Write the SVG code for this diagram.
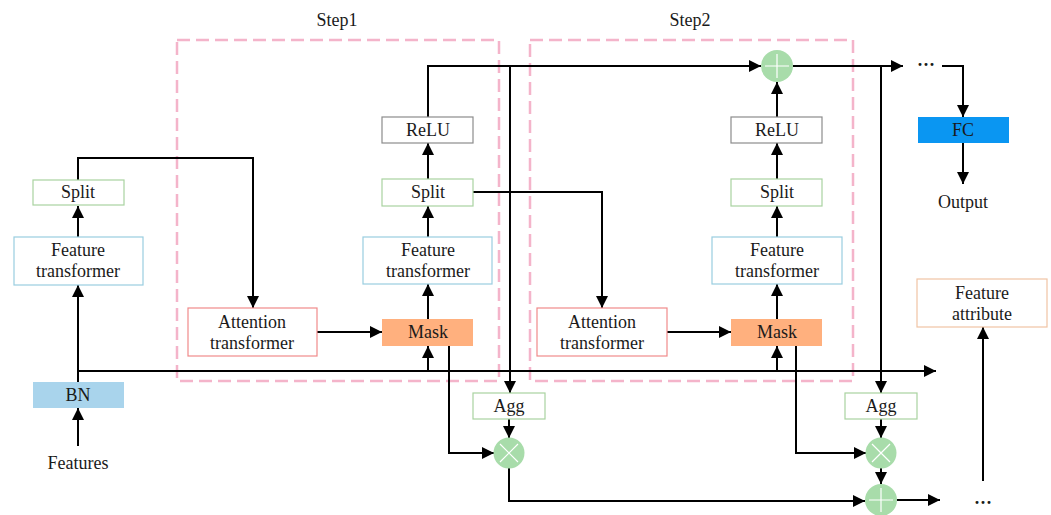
<svg xmlns="http://www.w3.org/2000/svg" width="1051" height="515" viewBox="0 0 1051 515">
  <style>
    text { font-family: "Liberation Serif", "DejaVu Serif", serif; font-size: 18px; fill: #1a1a1a; text-anchor: middle; dominant-baseline: central; }
    .dots { font-weight: bold; }
    .step { fill: none; stroke: #f4b4ca; stroke-width: 2.5; stroke-dasharray: 13 6; }
    .box { fill: #ffffff; stroke-width: 1.2; }
    .split { stroke: #a9d3a0; }
    .ft { stroke: #99cde0; }
    .attn { stroke: #f08a8a; }
    .relu { stroke: #8c8c8c; }
    .agg { stroke: #a9d3a0; }
    .attr { stroke: #f0c4a4; }
    .mask { fill: #ffb07e; stroke: none; }
    .bn { fill: #a9d4ec; stroke: none; }
    .fc { fill: #0a96f2; stroke: none; }
    .op { fill: #a8dcaa; }
    .opmark { stroke: #ffffff; stroke-width: 1.2; }
    .wire { fill: none; stroke: #000000; stroke-width: 2; }
  </style>
  <defs>
    <marker id="arrow" markerUnits="userSpaceOnUse" markerWidth="12" markerHeight="12" refX="12" refY="6" orient="auto">
      <path d="M0,0 L12,6 L0,12 z" fill="#000000"/>
    </marker>
  </defs>

  <!-- step frames -->
  <g id="step1">
    <rect class="step" x="177" y="40" width="322" height="341"/>
    <text x="337" y="20">Step1</text>
  </g>
  <g id="step2">
    <rect class="step" x="530" y="40" width="323" height="341"/>
    <text x="690" y="20">Step2</text>
  </g>

  <!-- connectors -->
  <g id="connectors" class="wire" marker-end="url(#arrow)">
    <path d="M78,446 V408"/>
    <path d="M78,382 V285"/>
    <path d="M78,237 V206"/>
    <path d="M78,180 V158 H253 V308"/>
    <path d="M78,371 H936"/>
    <path d="M428,371 V346"/>
    <path d="M317,332 H382"/>
    <path d="M428,319 V284"/>
    <path d="M428,237 V206"/>
    <path d="M428,179 V143"/>
    <path d="M428,117 V66 H761"/>
    <path d="M510,66 V393"/>
    <path d="M473,192 H602 V308"/>
    <path d="M667,332 H731"/>
    <path d="M777,371 V346"/>
    <path d="M777,319 V284"/>
    <path d="M777,237 V206"/>
    <path d="M777,179 V143"/>
    <path d="M777,117 V82"/>
    <path d="M793,66 H903"/>
    <path d="M942,66 H963 V117"/>
    <path d="M963,143 V184"/>
    <path d="M881,66 V393"/>
    <path d="M449,346 V453 H494"/>
    <path d="M509,419 V438"/>
    <path d="M509,468 V501 H865"/>
    <path d="M796,346 V453 H866"/>
    <path d="M881,419 V438"/>
    <path d="M881,468 V484"/>
    <path d="M897,500 H940"/>
    <path d="M983,481 V327"/>
  </g>

  <!-- input side -->
  <g id="features"><text x="78" y="463">Features</text></g>
  <g id="bn">
    <rect class="bn" x="33" y="382" width="91" height="26"/>
    <text x="78" y="395">BN</text>
  </g>
  <g id="ft0">
    <rect class="box ft" x="14" y="237" width="129" height="48"/>
    <text x="78" y="250">Feature</text>
    <text x="78" y="271">transformer</text>
  </g>
  <g id="split0">
    <rect class="box split" x="33" y="180" width="91" height="25"/>
    <text x="78" y="192">Split</text>
  </g>

  <!-- step 1 -->
  <g id="attn1">
    <rect class="box attn" x="188" y="308" width="129" height="48"/>
    <text x="252" y="322">Attention</text>
    <text x="252" y="343">transformer</text>
  </g>
  <g id="mask1">
    <rect class="mask" x="382" y="319" width="91" height="27"/>
    <text x="428" y="332">Mask</text>
  </g>
  <g id="ft1">
    <rect class="box ft" x="363" y="237" width="129" height="47"/>
    <text x="428" y="250">Feature</text>
    <text x="428" y="271">transformer</text>
  </g>
  <g id="split1">
    <rect class="box split" x="382" y="179" width="91" height="27"/>
    <text x="428" y="192">Split</text>
  </g>
  <g id="relu1">
    <rect class="box relu" x="382" y="117" width="91" height="26"/>
    <text x="428" y="130">ReLU</text>
  </g>
  <g id="agg1">
    <rect class="box agg" x="473" y="393" width="72" height="26"/>
    <text x="509" y="406">Agg</text>
  </g>
  <g id="mul1">
    <circle class="op" cx="509" cy="453" r="15.5"/>
    <path class="opmark" d="M500,444 L518,462 M518,444 L500,462"/>
  </g>

  <!-- step 2 -->
  <g id="attn2">
    <rect class="box attn" x="537" y="308" width="130" height="48"/>
    <text x="602" y="322">Attention</text>
    <text x="602" y="343">transformer</text>
  </g>
  <g id="mask2">
    <rect class="mask" x="731" y="319" width="91" height="27"/>
    <text x="777" y="332">Mask</text>
  </g>
  <g id="ft2">
    <rect class="box ft" x="712" y="237" width="130" height="47"/>
    <text x="777" y="250">Feature</text>
    <text x="777" y="271">transformer</text>
  </g>
  <g id="split2">
    <rect class="box split" x="731" y="179" width="91" height="27"/>
    <text x="777" y="192">Split</text>
  </g>
  <g id="relu2">
    <rect class="box relu" x="731" y="117" width="91" height="26"/>
    <text x="777" y="130">ReLU</text>
  </g>
  <g id="add1">
    <circle class="op" cx="777" cy="66" r="16"/>
    <path class="opmark" d="M765,66 H789 M777,54 V78"/>
  </g>
  <g id="agg2">
    <rect class="box agg" x="845" y="393" width="72" height="26"/>
    <text x="881" y="406">Agg</text>
  </g>
  <g id="mul2">
    <circle class="op" cx="881" cy="453" r="15.5"/>
    <path class="opmark" d="M872,444 L890,462 M890,444 L872,462"/>
  </g>
  <g id="add2">
    <circle class="op" cx="881" cy="500" r="16"/>
    <path class="opmark" d="M869,500 H893 M881,488 V512"/>
  </g>

  <!-- outputs -->
  <g id="more-top"><text class="dots" x="926" y="65">···</text></g>
  <g id="fc">
    <rect class="fc" x="918" y="117" width="91" height="26"/>
    <text x="963" y="130">FC</text>
  </g>
  <g id="output"><text x="963" y="202">Output</text></g>
  <g id="attribute">
    <rect class="box attr" x="917" y="279" width="130" height="48"/>
    <text x="982" y="293">Feature</text>
    <text x="982" y="314">attribute</text>
  </g>
  <g id="more-bottom"><text class="dots" x="983" y="503">···</text></g>
</svg>
